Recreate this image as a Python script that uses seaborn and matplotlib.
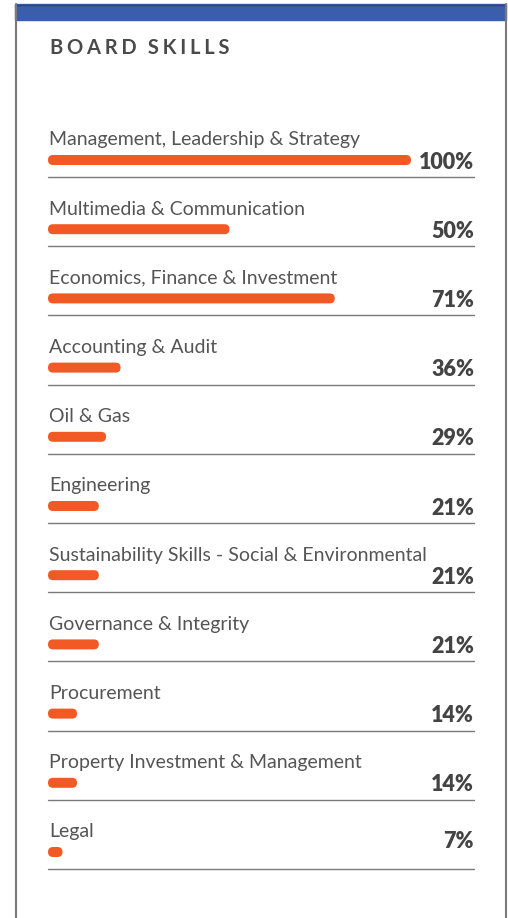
import numpy as np
import pandas as pd
import seaborn as sns
import matplotlib.pyplot as plt
from matplotlib.patches import FancyBboxPatch, Rectangle

skills = [
    "Management, Leadership & Strategy",
    "Multimedia & Communication",
    "Economics, Finance & Investment",
    "Accounting & Audit",
    "Oil & Gas",
    "Engineering",
    "Sustainability Skills - Social & Environmental",
    "Governance & Integrity",
    "Procurement",
    "Property Investment & Management",
    "Legal",
]
# printed percentages
pct_labels = [100, 50, 71, 36, 29, 21, 21, 21, 14, 14, 7]
# bar lengths as drawn (share of full track)
bar_len = [100, 50, 79, 20, 16, 14, 14, 14, 8, 8, 4]

W, H = 508, 918
ROW = 69.2
BAR_PX = 10

sns.set_theme(style="white")
plt.rcParams["font.family"] = ["Lato", "DejaVu Sans"]

fig = plt.figure(figsize=(W / 100, H / 100), dpi=100)

# card frame and blue header strip
fig.patches.append(Rectangle((15 / W, 1 - 20 / H), 491 / W, 16 / H,
                             transform=fig.transFigure, color="#3a5eab", zorder=0))
fig.add_artist(plt.Line2D([15 / W, 506 / W], [1 - 4.5 / H] * 2, color="#444444", lw=1))
fig.add_artist(plt.Line2D([15.5 / W] * 2, [0, 1 - 4 / H], color="#7a7a7a", lw=1.5))
fig.add_artist(plt.Line2D([505.5 / W] * 2, [0, 1 - 4 / H], color="#7a7a7a", lw=1.5))

gap = "\u2009\u200a"
title = gap.join("BOARD") + gap * 3 + gap.join("SKILLS")
fig.text(50 / W, 1 - 48 / H, title, fontsize=14.5, fontweight="bold",
         color="#4a4a4a", va="center", ha="left")

# axes: x 0..100 spans the bar track, one row per skill
x0, x1 = 48, 411
top = 160 - ROW / 2
bot = 160 + 10 * ROW + ROW / 2
ax = fig.add_axes([x0 / W, 1 - bot / H, (x1 - x0) / W, (bot - top) / H])

df = pd.DataFrame({"skill": skills, "bar": bar_len, "pct": pct_labels})
sns.barplot(data=df, x="bar", y="skill", orient="h", color="#f15a24",
            width=BAR_PX / ROW, ax=ax)
ax.set_xlim(0, 100)
ax.set_ylim(len(skills) - 0.5, -0.5)
ax.axis("off")

# swap the plain rectangles for rounded pills
xu = 100 / (x1 - x0)          # x data units per px
yu = 1 / ROW                  # y data units per px
aspect = yu / xu
for p in list(ax.patches):
    x, y = p.get_x(), p.get_y()
    w, h = p.get_width(), p.get_height()
    pill = FancyBboxPatch((x, y), w, h,
                          boxstyle=f"round,pad=0,rounding_size={BAR_PX / 2 * xu}",
                          mutation_aspect=aspect, color="#f15a24", lw=0)
    p.remove()
    ax.add_patch(pill)

right = (474 - x0) * xu
for i, row in df.iterrows():
    ax.text(0.3, i - 0.29, row["skill"], fontsize=14, color="#555555",
            va="center", ha="left", clip_on=False)
    dy = -0.15 if i == len(df) - 1 else 0.03
    ax.text(right, i + dy, f"{row['pct']}%", fontsize=15.5, fontweight="heavy",
            color="#444444", va="center", ha="right", clip_on=False)
    ax.plot([0, right], [i + 0.246] * 2, color="#7a7a7a", lw=1, clip_on=False)

fig.savefig("out.png", dpi=100)
